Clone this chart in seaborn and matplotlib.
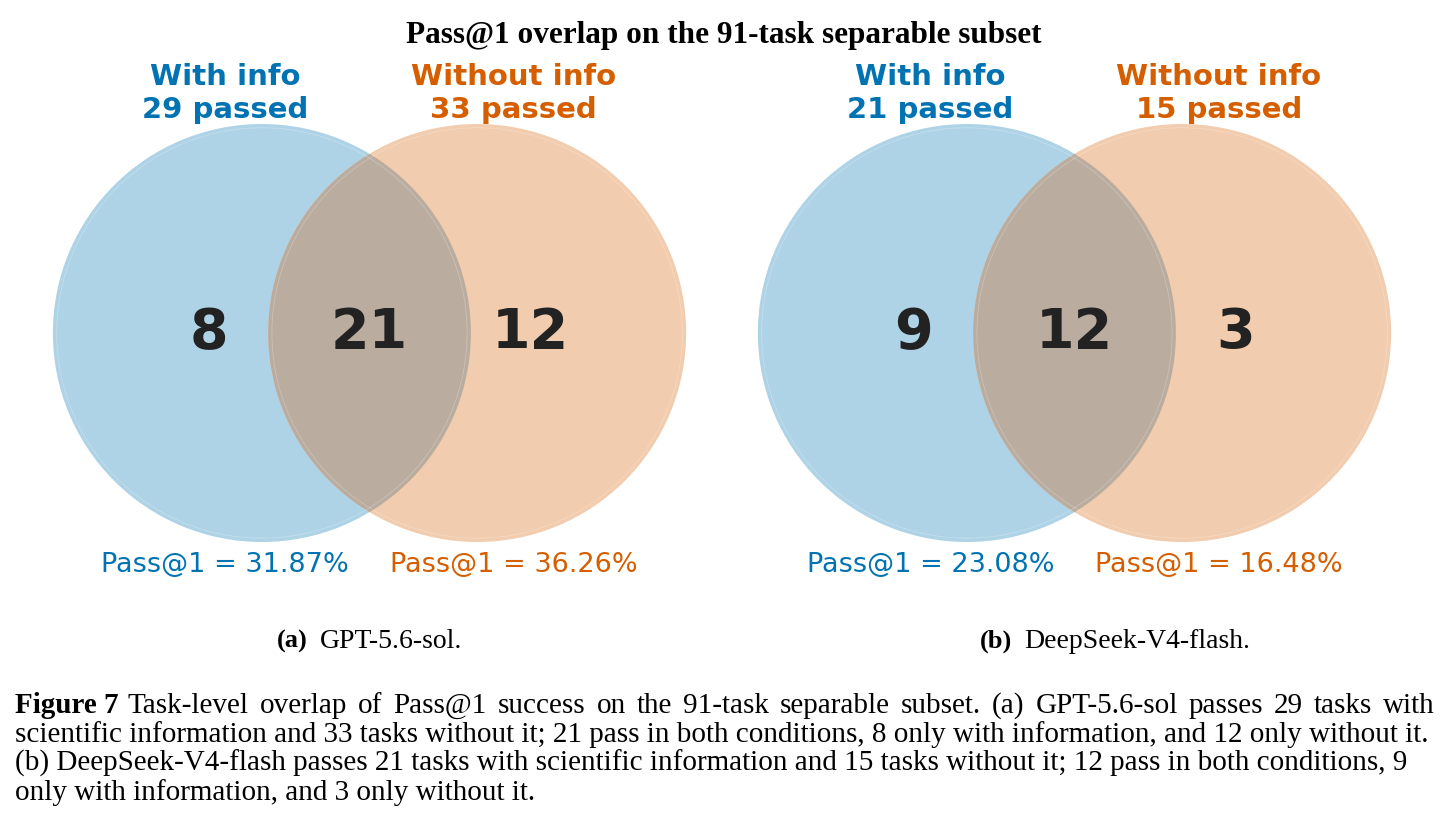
import numpy as np
import seaborn as sns
import matplotlib
matplotlib.use("Agg")
import matplotlib.pyplot as plt
from matplotlib.patches import Circle, Polygon

# data
n_tasks = 91
models = ["GPT-5.6-sol.", "DeepSeek-V4-flash."]
panel_tags = ["(a)", "(b)"]
only_with = [8, 9]
both = [21, 12]
only_without = [12, 3]

caption_lines = [
    "Task-level overlap of Pass@1 success on the 91-task separable subset.  (a) GPT-5.6-sol passes 29 tasks with",
    "scientific information and 33 tasks without it; 21 pass in both conditions, 8 only with information, and 12 only without it.",
    "(b) DeepSeek-V4-flash passes 21 tasks with scientific information and 15 tasks without it; 12 pass in both conditions, 9",
    "only with information, and 3 only without it.",
]

sns.set_theme(style="white")
pal = sns.color_palette("colorblind")
c_with = pal[0]      # blue
c_without = pal[3]   # vermillion
fill_with = "#AFD3E6"
fill_without = "#F2CCAE"
fill_both = "#BAAC9E"
num_color = "#222222"
serif = "Liberation Serif"

fig = plt.figure(figsize=(14.48, 8.26), dpi=100)
W, H = 1448, 826
r_px = 209
d = 1.03  # center distance in radii


def lens_outline(h, n=120):
    # intersection of unit circles centred at -h and +h
    th = np.arccos(h)
    a1 = np.linspace(-th, th, n)                    # right arc of left circle
    a2 = np.linspace(np.pi - th, np.pi + th, n)     # left arc of right circle
    pts1 = np.c_[-h + np.cos(a1), np.sin(a1)]
    pts2 = np.c_[h + np.cos(a2), np.sin(a2)]
    return np.vstack([pts1, pts2])


def draw_venn(ax, i):
    a, b, c = only_with[i], both[i], only_without[i]
    ax.add_patch(Circle((-d / 2, 0), 1, facecolor=fill_with, edgecolor="none", zorder=1))
    ax.add_patch(Circle((d / 2, 0), 1, facecolor=fill_without, edgecolor="none", zorder=1))
    ax.add_patch(Polygon(lens_outline(d / 2), closed=True, facecolor=fill_both,
                         edgecolor="none", zorder=2))
    for cx in (-d / 2, d / 2):
        ax.add_patch(Circle((cx, 0), 0.982, fill=False, edgecolor="white",
                            lw=0.6, alpha=0.25, zorder=3))
    for x, v in zip([-0.77, 0, 0.77], [a, b, c]):
        ax.text(x, 0.0, str(v), ha="center", va="center", fontsize=40,
                fontweight="bold", color=num_color, zorder=4)
    ax.text(-0.69, 1.146, f"With info\n{a + b} passed", ha="center", va="center",
            fontsize=21, fontweight="bold", color=c_with, linespacing=1.2)
    ax.text(0.69, 1.146, f"Without info\n{b + c} passed", ha="center", va="center",
            fontsize=21, fontweight="bold", color=c_without, linespacing=1.2)
    ax.text(-0.69, -1.11, f"Pass@1 = {100 * (a + b) / n_tasks:.2f}%", ha="center",
            va="center", fontsize=19.5, color=c_with)
    ax.text(0.69, -1.11, f"Pass@1 = {100 * (b + c) / n_tasks:.2f}%", ha="center",
            va="center", fontsize=19.5, color=c_without)
    ax.set_xlim(-1.7, 1.7)
    ax.set_ylim(-1.45, 1.45)
    ax.set_aspect("equal")
    ax.axis("off")


centers_px = [369.5, 1074.5]
cy_px = H - 333
for i, cx in enumerate(centers_px):
    w = 3.4 * r_px
    h = 2.9 * r_px
    ax = fig.add_axes([(cx - w / 2) / W, (cy_px - h / 2) / H, w / W, h / H])
    draw_venn(ax, i)
    fig.text((cx - 62) / W, 1 - 648 / H, panel_tags[i], ha="right", va="baseline",
             fontsize=19, fontweight="bold", family=serif, color="black")
    fig.text((cx - 50) / W, 1 - 648 / H, models[i], ha="left", va="baseline",
             fontsize=20, family=serif, color="black")

fig.text(0.5, 1 - 35 / H, "Pass@1 overlap on the 91-task separable subset",
         ha="center", va="center", fontsize=22.5, fontweight="bold", family=serif,
         color="black")

# caption; first line is spread out to the right margin like the typeset original
renderer = fig.canvas.get_renderer()
baselines = [713, 742, 771, 800]
right_px = 1435
fig.text(15 / W, 1 - baselines[0] / H, "Figure 7", ha="left", va="baseline",
         fontsize=21, fontweight="bold", family=serif, color="black")
for k, (yb, line) in enumerate(zip(baselines, caption_lines)):
    if k > 0:
        fig.text(15 / W, 1 - yb / H, line, ha="left", va="baseline",
                 fontsize=21, family=serif, color="black")
        continue
    x0 = 128
    words = line.split()
    texts = [fig.text(0, 1 - yb / H, wd, ha="left", va="baseline", fontsize=21,
                      family=serif, color="black") for wd in words]
    widths = [t.get_window_extent(renderer).width for t in texts]
    gap = (right_px - x0 - sum(widths)) / (len(words) - 1)
    x = x0
    for t, wpx in zip(texts, widths):
        t.set_x(x / W)
        x += wpx + gap

fig.savefig("out.png", dpi=100)
